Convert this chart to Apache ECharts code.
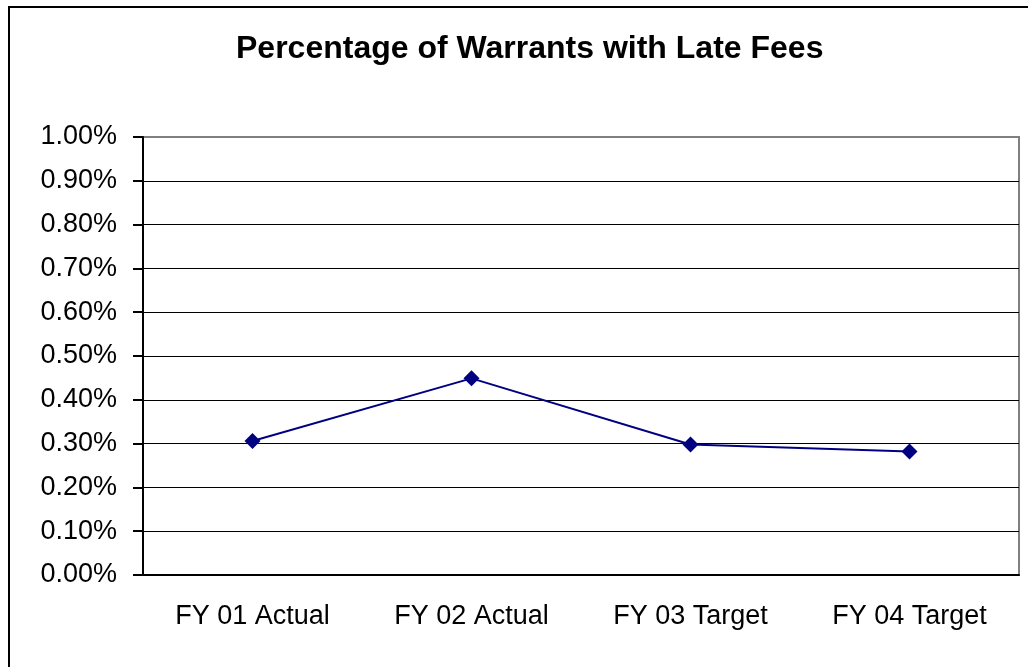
<!DOCTYPE html>
<html>
<head>
<meta charset="utf-8">
<script src="https://cdn.jsdelivr.net/npm/echarts@6/dist/echarts.min.js"></script>
<style>
  html, body { margin: 0; padding: 0; background: #fff; }
  #chart { width: 1028px; height: 667px; }
</style>
</head>
<body>
<div id="chart"></div>
<script>
var categories = ['FY 01 Actual', 'FY 02 Actual', 'FY 03 Target', 'FY 04 Target']
var lateFeePct = [0.306, 0.449, 0.298, 0.282]
var yTicks = [0, 0.1, 0.2, 0.3, 0.4, 0.5, 0.6, 0.7, 0.8, 0.9, 1.0]

var myChart = echarts.init(document.getElementById('chart'))

// last split line (top, 1.00%) is the grey plot border
var gridColors = yTicks.map(function (v, i) {
    return i === yTicks.length - 1 ? '#808080' : '#000'
})

myChart.setOption({
    animation: false,
    title: {
        text: 'Percentage of Warrants with Late Fees',
        left: 231,
        top: 28,
        textStyle: {
            fontFamily: 'Liberation Sans',
            fontSize: 32,
            fontWeight: 'bold',
            color: '#000'
        }
    },
    graphic: [{
        type: 'rect',
        shape: { x: 9, y: 7, width: 1030, height: 680 },
        style: { fill: 'none', stroke: '#000', lineWidth: 2 },
        silent: true
    }],
    grid: {
        left: 143,
        top: 137,
        right: 9,
        bottom: 92,
        show: true,
        borderColor: '#808080',
        borderWidth: 2
    },
    xAxis: {
        type: 'category',
        data: categories,
        boundaryGap: true,
        axisLine: { lineStyle: { color: '#000', width: 2 } },
        axisTick: { length: 9, lineStyle: { color: '#000', width: 2 } },
        axisLabel: {
            margin: 28,
            fontFamily: 'Liberation Sans',
            fontSize: 27,
            color: '#000'
        }
    },
    yAxis: {
        type: 'value',
        min: 0,
        max: 1,
        interval: 0.1,
        axisLine: { show: true, lineStyle: { color: '#000', width: 2 } },
        axisTick: { show: true, length: 10, lineStyle: { color: '#000', width: 2 } },
        axisLabel: {
            margin: 26,
            fontFamily: 'Liberation Sans',
            fontSize: 27,
            color: '#000',
            formatter: function (v) { return v.toFixed(2) + '%' }
        },
        splitLine: { show: true, lineStyle: { color: gridColors, width: 1 } }
    },
    series: [{
        type: 'line',
        data: lateFeePct,
        symbol: 'diamond',
        symbolSize: 16,
        lineStyle: { color: '#000080', width: 2 },
        itemStyle: { color: '#000080' }
    }]
})
</script>
</body>
</html>
